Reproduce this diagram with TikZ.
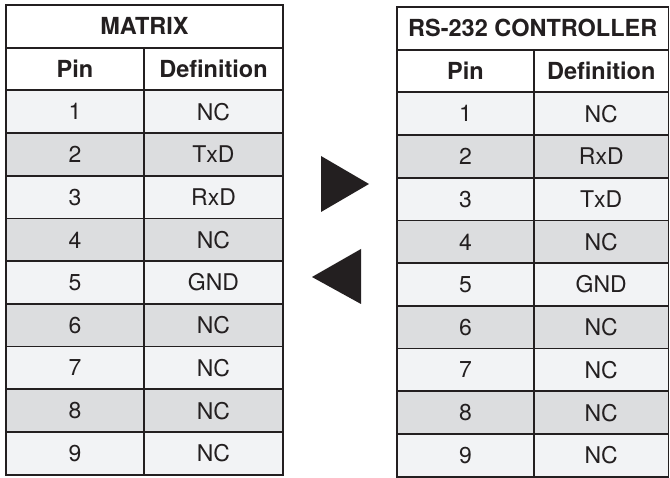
\documentclass[tikz,border=0pt]{standalone}
\usepackage{fontspec}
\setmainfont{TeX Gyre Heros}
\definecolor{lite}{HTML}{F2F3F5}
\definecolor{dark}{HTML}{DCDDDF}
\definecolor{ink}{HTML}{231F20}
\newcommand{\pintable}[7]{%
  % #1 prefix, #2 x0, #3 x1, #4 x2, #5 ytop, #6 title, #7 definitions
  \fill[white] (#2,#5) rectangle (#4,{#5+2*42.7});
  \foreach \d [count=\i] in {#7} {
    \pgfmathsetmacro\ya{#5+(\i+1)*42.7}
    \pgfmathsetmacro\yb{\ya+42.7}
    \pgfmathtruncatemacro\odd{mod(\i,2)}
    \ifnum\odd=1 \def\fc{lite}\else\def\fc{dark}\fi
    \fill[\fc] (#2,\ya) rectangle (#4,\yb);
    \node[txt] (#1p\i) at ({(#2+#3)/2},{(\ya+\yb)/2}) {\i};
    \node[txt] (#1d\i) at ({(#3+#4)/2},{(\ya+\yb)/2}) {\d};
  }
  \foreach \k in {1,...,10} {
    \draw[grid] (#2,{#5+\k*42.7}) -- (#4,{#5+\k*42.7});
  }
  \draw[grid] (#3,{#5+42.7}) -- (#3,{#5+11*42.7});
  \draw[grid] (#2,#5) rectangle (#4,{#5+11*42.7});
  \node[bold] (#1title) at ({(#2+#4)/2},{#5+0.5*42.7}) {#6};
  \node[bold] (#1pin) at ({(#2+#3)/2},{#5+1.5*42.7}) {Pin};
  \node[bold] (#1def) at ({(#3+#4)/2},{#5+1.5*42.7}) {Definition};
}
\begin{document}
\begin{tikzpicture}[x=1pt,y=-1pt,
  txt/.style={font=\fontsize{23}{26}\selectfont, text=ink, inner sep=0pt},
  bold/.style={font=\fontsize{23.5}{26}\selectfont\bfseries, text=ink, inner sep=0pt},
  grid/.style={draw=ink, line width=1.8pt}]
\useasboundingbox (0,0) rectangle (670,478);
\fill[white] (0,0) rectangle (670,478);
\pintable{m}{6}{144}{283}{5}{MATRIX}{NC,TxD,RxD,NC,GND,NC,NC,NC,NC}
\pintable{c}{397}{534}{668.5}{7}{RS-232 CONTROLLER}{NC,RxD,TxD,NC,GND,NC,NC,NC,NC}
\fill[ink] (321,156) -- (369,184) -- (321,212) -- cycle;
\fill[ink] (361,249) -- (312,277) -- (361,304) -- cycle;
\end{tikzpicture}
\end{document}
